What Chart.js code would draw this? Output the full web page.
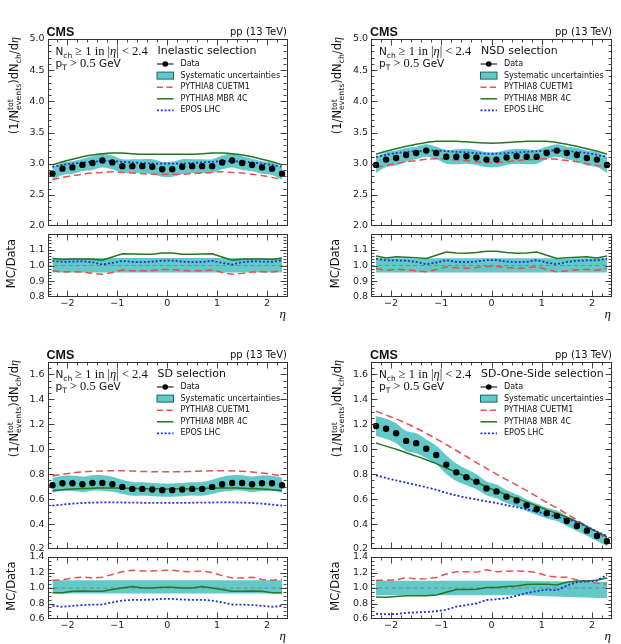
<!DOCTYPE html>
<html><head><meta charset="utf-8">
<script src="https://cdn.jsdelivr.net/npm/chart.js@4.4.0/dist/chart.umd.min.js"></script>
<style>
html,body{margin:0;padding:0;background:#fff;width:621px;height:644px;overflow:hidden}
canvas{position:absolute;left:0;top:0}
</style></head><body>
<script>
// ---------------- data ----------------
const ETA = [-2.3,-2.1,-1.9,-1.7,-1.5,-1.3,-1.1,-0.9,-0.7,-0.5,-0.3,-0.1,0.1,0.3,0.5,0.7,0.9,1.1,1.3,1.5,1.7,1.9,2.1,2.3];

// Inelastic
const inelData   = [2.84,2.92,2.94,2.98,3.01,3.05,3.02,2.96,2.96,2.96,2.95,2.91,2.91,2.95,2.96,2.96,2.96,3.02,3.05,3.01,2.98,2.94,2.92,2.84];
const inelSyst   = [0.10,0.10,0.10,0.10,0.11,0.11,0.11,0.11,0.11,0.11,0.12,0.12,0.12,0.12,0.11,0.11,0.11,0.11,0.11,0.11,0.10,0.10,0.10,0.10];
const inelCUETM1 = [2.74,2.78,2.81,2.83,2.85,2.86,2.87,2.86,2.85,2.84,2.83,2.83,2.83,2.83,2.84,2.85,2.86,2.87,2.86,2.85,2.83,2.81,2.78,2.74];
const inelMBR    = [2.98,3.03,3.07,3.11,3.14,3.16,3.17,3.17,3.16,3.15,3.15,3.15,3.15,3.15,3.15,3.16,3.17,3.17,3.16,3.14,3.11,3.07,3.03,2.98];
const inelEPOS   = [2.95,2.98,3.00,3.02,3.03,3.04,3.04,3.03,3.02,3.01,3.00,3.00,3.00,3.00,3.01,3.02,3.03,3.04,3.04,3.03,3.02,3.00,2.98,2.95];
const inelRatioCUETM1 = [0.967,0.958,0.960,0.958,0.950,0.944,0.956,0.971,0.967,0.967,0.968,0.975,0.975,0.968,0.967,0.967,0.971,0.956,0.944,0.950,0.958,0.960,0.958,0.967];
const inelRatioMBR    = [1.044,1.038,1.042,1.042,1.040,1.033,1.054,1.075,1.073,1.071,1.071,1.079,1.079,1.071,1.071,1.073,1.075,1.054,1.033,1.040,1.042,1.042,1.038,1.047];
const inelRatioEPOS   = [1.029,1.023,1.025,1.027,1.021,1.006,1.017,1.029,1.023,1.021,1.025,1.031,1.031,1.025,1.021,1.023,1.029,1.017,1.006,1.021,1.027,1.025,1.023,1.033];
const inelRatioBandHi = [1.048,1.048,1.048,1.048,1.048,1.048,1.048,1.048,1.048,1.048,1.048,1.048,1.048,1.048,1.048,1.048,1.048,1.048,1.048,1.048,1.048,1.048,1.048,1.048];
const inelRatioBandLo = [0.956,0.956,0.956,0.956,0.956,0.956,0.956,0.956,0.956,0.956,0.956,0.956,0.956,0.956,0.956,0.956,0.956,0.956,0.956,0.956,0.956,0.956,0.956,0.956];

// NSD
const nsdData   = [2.98,3.065,3.09,3.14,3.17,3.21,3.17,3.11,3.11,3.12,3.10,3.065,3.065,3.10,3.12,3.11,3.11,3.17,3.21,3.17,3.14,3.09,3.065,2.98];
const nsdSyst   = [0.13,0.12,0.12,0.11,0.10,0.10,0.10,0.11,0.12,0.12,0.12,0.12,0.12,0.12,0.12,0.12,0.11,0.10,0.10,0.10,0.11,0.12,0.12,0.13];
const nsdCUETM1 = [2.94,2.97,3.00,3.03,3.05,3.07,3.08,3.07,3.06,3.05,3.03,3.02,3.02,3.03,3.05,3.06,3.07,3.08,3.07,3.05,3.03,3.00,2.97,2.94];
const nsdMBR    = [3.15,3.20,3.24,3.28,3.31,3.34,3.36,3.36,3.36,3.35,3.34,3.33,3.33,3.34,3.35,3.36,3.36,3.36,3.34,3.31,3.28,3.24,3.20,3.15];
const nsdEPOS   = [3.11,3.14,3.17,3.19,3.20,3.21,3.21,3.20,3.19,3.18,3.17,3.16,3.16,3.17,3.18,3.19,3.20,3.21,3.21,3.20,3.19,3.17,3.14,3.11];
const nsdRatioCUETM1 = [0.981,0.970,0.975,0.973,0.966,0.960,0.975,0.992,0.985,0.983,0.987,0.994,0.994,0.987,0.983,0.985,0.992,0.975,0.960,0.966,0.973,0.975,0.970,0.985];
const nsdRatioMBR    = [1.061,1.048,1.055,1.053,1.050,1.044,1.065,1.086,1.080,1.078,1.082,1.090,1.090,1.082,1.078,1.080,1.086,1.065,1.044,1.050,1.053,1.055,1.048,1.061];
const nsdRatioEPOS   = [1.044,1.032,1.032,1.030,1.023,1.008,1.019,1.034,1.023,1.021,1.025,1.034,1.034,1.025,1.021,1.023,1.034,1.019,1.008,1.023,1.030,1.032,1.032,1.044];
const nsdRatioBandHi = [1.046,1.046,1.046,1.046,1.046,1.046,1.046,1.046,1.046,1.046,1.046,1.046,1.046,1.046,1.046,1.046,1.046,1.046,1.046,1.046,1.046,1.046,1.046,1.046];
const nsdRatioBandLo = [0.956,0.956,0.956,0.956,0.956,0.956,0.956,0.956,0.956,0.956,0.956,0.956,0.956,0.956,0.956,0.956,0.956,0.956,0.956,0.956,0.956,0.956,0.956,0.956];

// SD
const sdData   = [0.711,0.727,0.727,0.719,0.730,0.730,0.719,0.698,0.682,0.682,0.677,0.672,0.672,0.677,0.682,0.682,0.698,0.719,0.730,0.730,0.719,0.727,0.727,0.711];
const sdSyst   = [0.060,0.060,0.062,0.062,0.062,0.062,0.060,0.057,0.055,0.053,0.053,0.053,0.053,0.053,0.053,0.055,0.057,0.060,0.062,0.062,0.062,0.062,0.060,0.060];
const sdCUETM1 = [0.785,0.800,0.810,0.818,0.823,0.826,0.828,0.828,0.825,0.822,0.820,0.820,0.820,0.820,0.822,0.825,0.828,0.828,0.826,0.823,0.818,0.810,0.800,0.785];
const sdMBR    = [0.668,0.676,0.682,0.686,0.688,0.689,0.689,0.688,0.686,0.684,0.683,0.682,0.682,0.683,0.684,0.686,0.688,0.689,0.689,0.688,0.686,0.682,0.676,0.668];
const sdEPOS   = [0.548,0.556,0.564,0.569,0.572,0.574,0.574,0.573,0.572,0.571,0.570,0.570,0.570,0.570,0.571,0.572,0.573,0.574,0.574,0.572,0.569,0.564,0.556,0.548];
const sdRatioCUETM1 = [1.100,1.105,1.130,1.140,1.130,1.140,1.175,1.210,1.230,1.220,1.220,1.225,1.230,1.215,1.210,1.220,1.200,1.160,1.130,1.130,1.140,1.110,1.100,1.110];
const sdRatioMBR    = [0.940,0.940,0.957,0.960,0.957,0.957,0.980,1.000,1.020,1.000,1.000,1.010,1.010,1.000,1.000,1.020,1.000,0.980,0.957,0.957,0.960,0.957,0.940,0.940];
const sdRatioEPOS   = [0.770,0.757,0.770,0.780,0.785,0.787,0.815,0.838,0.847,0.847,0.850,0.860,0.860,0.850,0.847,0.847,0.838,0.815,0.787,0.785,0.780,0.770,0.757,0.770];
const sdRatioBandHi = [1.100,1.100,1.100,1.100,1.100,1.100,1.100,1.100,1.100,1.100,1.100,1.100,1.100,1.100,1.100,1.100,1.100,1.100,1.100,1.100,1.100,1.100,1.100,1.100];
const sdRatioBandLo = [0.928,0.928,0.928,0.928,0.928,0.928,0.928,0.928,0.928,0.928,0.928,0.928,0.928,0.928,0.928,0.928,0.928,0.928,0.928,0.928,0.928,0.928,0.928,0.928];

// SD-One-Side
const sdosData   = [1.187,1.165,1.128,1.067,1.049,1.004,0.954,0.877,0.815,0.776,0.739,0.686,0.662,0.620,0.590,0.551,0.519,0.487,0.466,0.424,0.384,0.347,0.304,0.262];
const sdosSyst   = [0.080,0.080,0.080,0.080,0.080,0.075,0.075,0.075,0.070,0.065,0.060,0.055,0.055,0.052,0.050,0.047,0.045,0.043,0.042,0.040,0.040,0.040,0.040,0.040];
const sdosCUETM1 = [1.305,1.275,1.243,1.208,1.170,1.128,1.084,1.038,0.990,0.942,0.893,0.846,0.800,0.756,0.713,0.668,0.622,0.573,0.528,0.481,0.432,0.382,0.330,0.280];
const sdosMBR    = [1.050,1.025,1.000,0.972,0.945,0.916,0.885,0.850,0.815,0.778,0.738,0.698,0.666,0.634,0.605,0.576,0.545,0.514,0.485,0.455,0.420,0.380,0.338,0.296];
const sdosEPOS   = [0.790,0.770,0.750,0.732,0.714,0.695,0.675,0.650,0.630,0.612,0.597,0.582,0.568,0.552,0.536,0.518,0.500,0.480,0.458,0.438,0.414,0.380,0.340,0.305];
const sdosRatioCUETM1 = [1.098,1.100,1.105,1.136,1.115,1.120,1.135,1.180,1.210,1.210,1.205,1.235,1.210,1.215,1.220,1.215,1.200,1.157,1.140,1.140,1.105,1.085,1.060,1.050];
const sdosRatioMBR    = [0.885,0.880,0.890,0.900,0.900,0.900,0.910,0.945,0.980,0.980,0.985,1.005,1.005,1.020,1.025,1.045,1.050,1.050,1.040,1.075,1.090,1.090,1.100,1.130];
const sdosRatioEPOS   = [0.668,0.660,0.664,0.680,0.685,0.690,0.700,0.720,0.760,0.780,0.800,0.845,0.855,0.870,0.900,0.935,0.960,0.980,0.970,1.030,1.075,1.085,1.095,1.170];
const sdosRatioBandHi = [1.093,1.093,1.093,1.093,1.093,1.093,1.093,1.093,1.093,1.093,1.093,1.093,1.093,1.093,1.093,1.093,1.090,1.088,1.086,1.084,1.082,1.080,1.080,1.080];
const sdosRatioBandLo = [0.906,0.906,0.906,0.906,0.906,0.906,0.906,0.906,0.906,0.906,0.906,0.906,0.906,0.906,0.906,0.906,0.900,0.895,0.890,0.885,0.880,0.876,0.872,0.870];

// tick labels
const xTicks = [-2,-1,0,1,2];
const topMainTicks = [2.0,2.5,3.0,3.5,4.0,4.5,5.0];
const topRatioTicks = [0.8,0.9,1.0,1.1];
const botMainTicks = [0.2,0.4,0.6,0.8,1.0,1.2,1.4,1.6];
const botRatioTicks = [0.6,0.8,1.0,1.2,1.4];
const legendLabels = ['Data','Systematic uncertainties','PYTHIA8 CUETM1','PYTHIA8 MBR 4C','EPOS LHC'];
const selectionTitles = ['Inelastic selection','NSD selection','SD selection','SD-One-Side selection'];

// ---------------- style / layout ----------------
const W = 621, H = 644;
const COL = {cu:'rgb(234,80,76)', mbr:'rgb(36,118,36)', epos:'rgb(28,48,222)', band:'rgb(98,200,200)', bandEdge:'rgb(30,100,100)', frame:'#333'};
const SANS = '"DejaVu Sans"', SERIF = '"Liberation Serif"';

const PANELS = [
  {l:47.5, r:287, mt:39,  mb:226, rt:234, rb:297, title:selectionTitles[0],
   data:inelData, syst:inelSyst, cu:inelCUETM1, mbr:inelMBR, epos:inelEPOS,
   rcu:inelRatioCUETM1, rmbr:inelRatioMBR, repos:inelRatioEPOS, rhi:inelRatioBandHi, rlo:inelRatioBandLo,
   yMin:2, yMax:5, yTicks:topMainTicks, yMinor:0.1, rMin:0.8, rMax:1.2, rTicks:topRatioTicks, rMinor:0.02},
  {l:371, r:612, mt:39,  mb:226, rt:234, rb:297, title:selectionTitles[1],
   data:nsdData, syst:nsdSyst, cu:nsdCUETM1, mbr:nsdMBR, epos:nsdEPOS,
   rcu:nsdRatioCUETM1, rmbr:nsdRatioMBR, repos:nsdRatioEPOS, rhi:nsdRatioBandHi, rlo:nsdRatioBandLo,
   yMin:2, yMax:5, yTicks:topMainTicks, yMinor:0.1, rMin:0.8, rMax:1.2, rTicks:topRatioTicks, rMinor:0.02},
  {l:47.5, r:287, mt:362, mb:549, rt:557, rb:619, title:selectionTitles[2],
   data:sdData, syst:sdSyst, cu:sdCUETM1, mbr:sdMBR, epos:sdEPOS,
   rcu:sdRatioCUETM1, rmbr:sdRatioMBR, repos:sdRatioEPOS, rhi:sdRatioBandHi, rlo:sdRatioBandLo,
   yMin:0.2, yMax:1.7, yTicks:botMainTicks, yMinor:0.05, rMin:0.6, rMax:1.4, rTicks:botRatioTicks, rMinor:0.05},
  {l:371, r:612, mt:362, mb:549, rt:557, rb:619, title:selectionTitles[3],
   data:sdosData, syst:sdosSyst, cu:sdosCUETM1, mbr:sdosMBR, epos:sdosEPOS,
   rcu:sdosRatioCUETM1, rmbr:sdosRatioMBR, repos:sdosRatioEPOS, rhi:sdosRatioBandHi, rlo:sdosRatioBandLo,
   yMin:0.2, yMax:1.7, yTicks:botMainTicks, yMinor:0.05, rMin:0.6, rMax:1.4, rTicks:botRatioTicks, rMinor:0.05}
];

function pts(vals){ return ETA.map((x,i)=>({x:x, y:vals[i]})); }

function drawRich(ctx, x, y, parts){
  for(const p of parts){
    if(p.stack){
      let mw = 0;
      for(const s of p.stack){ ctx.font = s.f; ctx.fillText(s.t, x, y + s.dy); mw = Math.max(mw, ctx.measureText(s.t).width); }
      x += mw;
    } else {
      ctx.font = p.f; ctx.fillText(p.t, x, y + (p.dy||0)); x += ctx.measureText(p.t).width;
    }
  }
  return x;
}
function richWidth(ctx, parts){
  let w = 0;
  for(const p of parts){
    if(p.stack){ let mw=0; for(const s of p.stack){ ctx.font=s.f; mw=Math.max(mw, ctx.measureText(s.t).width);} w+=mw; }
    else { ctx.font=p.f; w += ctx.measureText(p.t).width; }
  }
  return w;
}

function fmtX(v){ return (v<0 ? '\u2212' + Math.abs(v) : String(v)); }

function drawFrameAndTicks(ctx, chart, P, isRatio){
  const ca = chart.chartArea, xs = chart.scales.x, ys = chart.scales.y;
  ctx.save();
  ctx.strokeStyle = COL.frame; ctx.lineWidth = 1;
  ctx.strokeRect(Math.round(ca.left)+0.5, Math.round(ca.top)+0.5, Math.round(ca.right-ca.left)-1, Math.round(ca.bottom-ca.top)-1);
  ctx.lineWidth = 0.9;
  const L = Math.round(ca.left)+0.5, R = Math.round(ca.right)-0.5, T = Math.round(ca.top)+0.5, B = Math.round(ca.bottom)-0.5;
  function hTick(y, len){ ctx.beginPath(); ctx.moveTo(L, y); ctx.lineTo(L+len, y); ctx.moveTo(R, y); ctx.lineTo(R-len, y); ctx.stroke(); }
  function vTick(x, len){ ctx.beginPath(); ctx.moveTo(x, B); ctx.lineTo(x, B-len); ctx.moveTo(x, T); ctx.lineTo(x, T+len); ctx.stroke(); }
  for(let k=-12;k<=12;k++){
    const v = k*0.2; if(Math.abs(v)>=2.39) continue;
    const major = Math.abs(v - Math.round(v))<1e-6;
    vTick(Math.round(xs.getPixelForValue(v))+0.5, major?6:3);
  }
  const yMin = isRatio?P.rMin:P.yMin, yMax = isRatio?P.rMax:P.yMax, minor = isRatio?P.rMinor:P.yMinor;
  const majors = isRatio?P.rTicks:P.yTicks;
  const nMin = Math.round((yMax-yMin)/minor);
  for(let k=1;k<nMin;k++){
    const v = yMin + k*minor;
    hTick(Math.round(ys.getPixelForValue(v))+0.5, 3);
  }
  for(const v of majors){
    if(v<=yMin+1e-9 || v>=yMax-1e-9) continue;
    hTick(Math.round(ys.getPixelForValue(v))+0.5, 6);
  }
  ctx.fillStyle = '#222';
  ctx.font = '9.5px ' + SANS;
  ctx.textAlign = 'right'; ctx.textBaseline = 'middle';
  for(const v of majors){ ctx.fillText(v.toFixed(1), ca.left - 3, ys.getPixelForValue(v)); }
  if(isRatio){
    ctx.textAlign = 'center'; ctx.textBaseline = 'top';
    for(const v of xTicks){ ctx.fillText(fmtX(v), xs.getPixelForValue(v), ca.bottom + 2); }
  }
  ctx.restore();
}

function mainOverlay(ctx, chart, P){
  drawFrameAndTicks(ctx, chart, P, false);
  ctx.save();
  ctx.fillStyle = '#111';
  ctx.textBaseline = 'alphabetic';
  ctx.font = 'bold 12.5px "Liberation Sans"'; ctx.textAlign = 'left';
  ctx.fillText('CMS', P.l - 1, P.mt - 3);
  ctx.font = '10px ' + SANS; ctx.textAlign = 'right';
  ctx.fillText('pp (13 TeV)', P.r, P.mt - 4);
  ctx.textAlign = 'left';
  const fs = '10.5px ' + SANS, fsub = '7.5px ' + SANS, fm = '12.5px ' + SERIF, fmi = 'italic 12.5px ' + SERIF;
  drawRich(ctx, P.l + 8, P.mt + 16, [
    {t:'N', f:fs}, {t:'ch', f:fsub, dy:2.5}, {t:' \u2265 1 in |', f:fm}, {t:'\u03b7', f:fmi}, {t:'| < 2.4', f:fm}
  ]);
  drawRich(ctx, P.l + 8, P.mt + 28, [
    {t:'p', f:fs}, {t:'T', f:fsub, dy:2.5}, {t:' > 0.5', f:fm}, {t:' GeV', f:fs}
  ]);
  ctx.font = '11px ' + SANS; ctx.textBaseline = 'middle';
  ctx.fillText(P.title, P.l + 110, P.mt + 12);
  const rows = [25, 36.6, 48.2, 59.8, 71.4];
  const x0 = P.l + 109.5, x1 = P.l + 126;
  ctx.font = '8px ' + SANS;
  for(let i=0;i<5;i++){
    const y = P.mt + rows[i];
    ctx.fillStyle = '#111';
    ctx.fillText(legendLabels[i], P.l + 133, y);
    ctx.setLineDash([]);
    if(i===0){
      ctx.strokeStyle = '#000'; ctx.lineWidth = 1;
      ctx.beginPath(); ctx.moveTo(x0, y); ctx.lineTo(x1, y); ctx.stroke();
      ctx.beginPath(); ctx.arc((x0+x1)/2, y, 2.8, 0, Math.PI*2); ctx.fillStyle = '#000'; ctx.fill();
    } else if(i===1){
      ctx.fillStyle = COL.band; ctx.fillRect(x0, y-3.5, x1-x0, 7);
      ctx.strokeStyle = COL.bandEdge; ctx.lineWidth = 1; ctx.strokeRect(x0, y-3.5, x1-x0, 7);
    } else {
      const c = i===2?COL.cu:(i===3?COL.mbr:COL.epos);
      ctx.strokeStyle = c; ctx.lineWidth = i===4?1.8:1.5;
      ctx.setLineDash(i===2?[6,3.5]:(i===4?[2,1.8]:[]));
      ctx.beginPath(); ctx.moveTo(x0, y); ctx.lineTo(x1, y); ctx.stroke();
      ctx.setLineDash([]);
    }
  }
  const fT = '11.5px ' + SANS, fTs = '7.8px ' + SANS, fTi = 'italic 12px ' + SERIF;
  const parts = [
    {t:'(1/N', f:fT},
    {stack:[{t:'tot', f:fTs, dy:-4.5},{t:'events', f:fTs, dy:3}]},
    {t:')dN', f:fT}, {t:'ch', f:fTs, dy:3}, {t:'/d', f:fT}, {t:'\u03b7', f:fTi}
  ];
  const w = richWidth(ctx, parts);
  ctx.fillStyle = '#111';
  ctx.textBaseline = 'alphabetic';
  ctx.translate(P.l - 34.5 + 4.5, P.mt - 2 + w);
  ctx.rotate(-Math.PI/2);
  drawRich(ctx, 0, 0, parts);
  ctx.restore();
}

function ratioOverlay(ctx, chart, P){
  drawFrameAndTicks(ctx, chart, P, true);
  ctx.save();
  ctx.fillStyle = '#111';
  ctx.font = 'italic 13px ' + SERIF; ctx.textAlign = 'right'; ctx.textBaseline = 'middle';
  ctx.fillText('\u03b7', P.r - 1, P.rb + 18);
  ctx.font = '11.5px ' + SANS; ctx.textAlign = 'center';
  ctx.translate(P.l - 35, (P.rt + P.rb)/2 - 2);
  ctx.rotate(-Math.PI/2);
  ctx.fillText('MC/Data', 0, 0);
  ctx.restore();
}

function makeCanvas(){
  const c = document.createElement('canvas');
  c.width = W; c.height = H; c.style.width = W+'px'; c.style.height = H+'px';
  document.body.appendChild(c);
  return c;
}

function baseOptions(P, top, bottom, yMin, yMax){
  return {
    responsive:false, animation:false, devicePixelRatio:1,
    layout:{padding:{left:P.l, right:W-P.r, top:top, bottom:H-bottom}},
    scales:{
      x:{type:'linear', min:-2.4, max:2.4, display:false},
      y:{type:'linear', min:yMin, max:yMax, display:false}
    },
    plugins:{legend:{display:false}, tooltip:{enabled:false}},
    elements:{point:{radius:0}}
  };
}

for(const P of PANELS){
  const lo = P.data.map((v,i)=>v - P.syst[i]);
  const hi = P.data.map((v,i)=>v + P.syst[i]);
  new Chart(makeCanvas(), {
    type:'line',
    data:{datasets:[
      {data:pts(lo), borderWidth:0, borderColor:'rgba(0,0,0,0)', fill:false, tension:0.35, order:10},
      {data:pts(hi), borderWidth:0, borderColor:'rgba(0,0,0,0)', backgroundColor:COL.band, fill:0, tension:0.35, order:9},
      {data:pts(P.cu), borderColor:COL.cu, borderWidth:1.5, borderDash:[7,4], fill:false, tension:0.3, order:3},
      {data:pts(P.mbr), borderColor:COL.mbr, borderWidth:1.5, fill:false, tension:0.3, order:2},
      {data:pts(P.epos), borderColor:COL.epos, borderWidth:1.8, borderDash:[2,2], fill:false, tension:0.3, order:1},
      {data:pts(P.data), showLine:false, pointRadius:3.2, pointBackgroundColor:'#000', pointBorderColor:'#000', pointBorderWidth:0, order:0}
    ]},
    options: baseOptions(P, P.mt, P.mb, P.yMin, P.yMax),
    plugins:[{id:'ov', afterDraw(chart){ mainOverlay(chart.ctx, chart, P); }}]
  });
  new Chart(makeCanvas(), {
    type:'line',
    data:{datasets:[
      {data:pts(P.rlo), borderWidth:0, borderColor:'rgba(0,0,0,0)', fill:false, tension:0, order:10},
      {data:pts(P.rhi), borderWidth:0, borderColor:'rgba(0,0,0,0)', backgroundColor:COL.band, fill:0, tension:0, order:9},
      {data:[{x:-2.4,y:1},{x:2.4,y:1}], borderColor:'rgba(110,110,110,0.8)', borderWidth:0.8, borderDash:[4,3], fill:false, order:5},
      {data:pts(P.rcu), borderColor:COL.cu, borderWidth:1.5, borderDash:[7,4], fill:false, tension:0, order:3},
      {data:pts(P.rmbr), borderColor:COL.mbr, borderWidth:1.5, fill:false, tension:0, order:2},
      {data:pts(P.repos), borderColor:COL.epos, borderWidth:1.8, borderDash:[2,2], fill:false, tension:0, order:1}
    ]},
    options: baseOptions(P, P.rt, P.rb, P.rMin, P.rMax),
    plugins:[{id:'ovr', afterDraw(chart){ ratioOverlay(chart.ctx, chart, P); }}]
  });
}
</script>
</body></html>
